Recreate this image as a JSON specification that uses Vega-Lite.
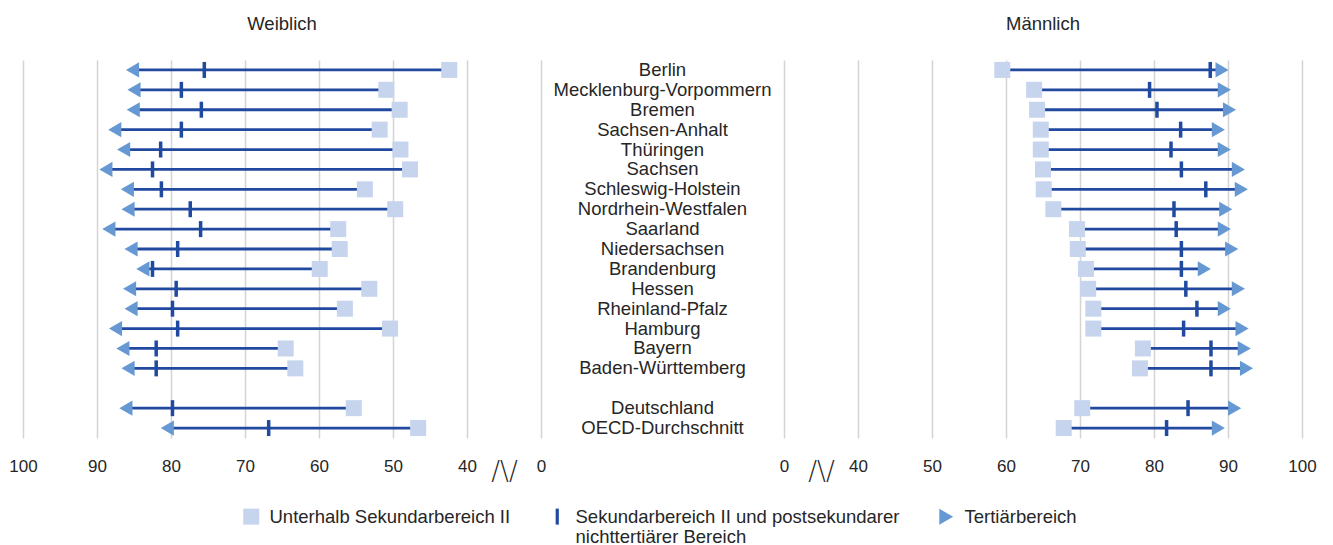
{
  "$schema": "https://vega.github.io/schema/vega-lite/v6.json",
  "padding": {"left": 8, "top": 14, "right": 20, "bottom": 0},
  "bounds": "flush",
  "spacing": 0,
  "config": {
    "view": {"stroke": null},
    "font": "Liberation Sans",
    "title": {"fontSize": 18.5, "fontWeight": "normal", "color": "#262626", "font": "Liberation Sans", "offset": 27}
  },
  "data": {"values": [
    {"l":"Berlin","g":"W","k":"U","v":42.4},{"l":"Berlin","g":"W","k":"S","v":75.5},{"l":"Berlin","g":"W","k":"T","v":85.2},
    {"l":"Mecklenburg-Vorpommern","g":"W","k":"U","v":50.9},{"l":"Mecklenburg-Vorpommern","g":"W","k":"S","v":78.6},{"l":"Mecklenburg-Vorpommern","g":"W","k":"T","v":85.0},
    {"l":"Bremen","g":"W","k":"U","v":49.1},{"l":"Bremen","g":"W","k":"S","v":75.9},{"l":"Bremen","g":"W","k":"T","v":85.1},
    {"l":"Sachsen-Anhalt","g":"W","k":"U","v":51.8},{"l":"Sachsen-Anhalt","g":"W","k":"S","v":78.6},{"l":"Sachsen-Anhalt","g":"W","k":"T","v":87.6},
    {"l":"Thüringen","g":"W","k":"U","v":49.0},{"l":"Thüringen","g":"W","k":"S","v":81.4},{"l":"Thüringen","g":"W","k":"T","v":86.4},
    {"l":"Sachsen","g":"W","k":"U","v":47.7},{"l":"Sachsen","g":"W","k":"S","v":82.5},{"l":"Sachsen","g":"W","k":"T","v":88.8},
    {"l":"Schleswig-Holstein","g":"W","k":"U","v":53.8},{"l":"Schleswig-Holstein","g":"W","k":"S","v":81.3},{"l":"Schleswig-Holstein","g":"W","k":"T","v":85.9},
    {"l":"Nordrhein-Westfalen","g":"W","k":"U","v":49.7},{"l":"Nordrhein-Westfalen","g":"W","k":"S","v":77.4},{"l":"Nordrhein-Westfalen","g":"W","k":"T","v":85.8},
    {"l":"Saarland","g":"W","k":"U","v":57.4},{"l":"Saarland","g":"W","k":"S","v":76.0},{"l":"Saarland","g":"W","k":"T","v":88.4},
    {"l":"Niedersachsen","g":"W","k":"U","v":57.2},{"l":"Niedersachsen","g":"W","k":"S","v":79.1},{"l":"Niedersachsen","g":"W","k":"T","v":85.4},
    {"l":"Brandenburg","g":"W","k":"U","v":59.9},{"l":"Brandenburg","g":"W","k":"S","v":82.5},{"l":"Brandenburg","g":"W","k":"T","v":83.8},
    {"l":"Hessen","g":"W","k":"U","v":53.2},{"l":"Hessen","g":"W","k":"S","v":79.3},{"l":"Hessen","g":"W","k":"T","v":85.6},
    {"l":"Rheinland-Pfalz","g":"W","k":"U","v":56.5},{"l":"Rheinland-Pfalz","g":"W","k":"S","v":79.8},{"l":"Rheinland-Pfalz","g":"W","k":"T","v":85.4},
    {"l":"Hamburg","g":"W","k":"U","v":50.4},{"l":"Hamburg","g":"W","k":"S","v":79.1},{"l":"Hamburg","g":"W","k":"T","v":87.5},
    {"l":"Bayern","g":"W","k":"U","v":64.5},{"l":"Bayern","g":"W","k":"S","v":82.0},{"l":"Bayern","g":"W","k":"T","v":86.5},
    {"l":"Baden-Württemberg","g":"W","k":"U","v":63.2},{"l":"Baden-Württemberg","g":"W","k":"S","v":82.0},{"l":"Baden-Württemberg","g":"W","k":"T","v":85.8},
    {"l":"Deutschland","g":"W","k":"U","v":55.3},{"l":"Deutschland","g":"W","k":"S","v":79.8},{"l":"Deutschland","g":"W","k":"T","v":86.1},
    {"l":"OECD-Durchschnitt","g":"W","k":"U","v":46.6},{"l":"OECD-Durchschnitt","g":"W","k":"S","v":66.8},{"l":"OECD-Durchschnitt","g":"W","k":"T","v":80.5},
    {"l":"Berlin","g":"M","k":"U","v":59.5},{"l":"Berlin","g":"M","k":"S","v":87.6},{"l":"Berlin","g":"M","k":"T","v":89.2},
    {"l":"Mecklenburg-Vorpommern","g":"M","k":"U","v":63.8},{"l":"Mecklenburg-Vorpommern","g":"M","k":"S","v":79.4},{"l":"Mecklenburg-Vorpommern","g":"M","k":"T","v":89.5},
    {"l":"Bremen","g":"M","k":"U","v":64.2},{"l":"Bremen","g":"M","k":"S","v":80.4},{"l":"Bremen","g":"M","k":"T","v":90.2},
    {"l":"Sachsen-Anhalt","g":"M","k":"U","v":64.7},{"l":"Sachsen-Anhalt","g":"M","k":"S","v":83.6},{"l":"Sachsen-Anhalt","g":"M","k":"T","v":88.7},
    {"l":"Thüringen","g":"M","k":"U","v":64.7},{"l":"Thüringen","g":"M","k":"S","v":82.3},{"l":"Thüringen","g":"M","k":"T","v":89.5},
    {"l":"Sachsen","g":"M","k":"U","v":65.0},{"l":"Sachsen","g":"M","k":"S","v":83.7},{"l":"Sachsen","g":"M","k":"T","v":91.4},
    {"l":"Schleswig-Holstein","g":"M","k":"U","v":65.1},{"l":"Schleswig-Holstein","g":"M","k":"S","v":87.0},{"l":"Schleswig-Holstein","g":"M","k":"T","v":91.8},
    {"l":"Nordrhein-Westfalen","g":"M","k":"U","v":66.4},{"l":"Nordrhein-Westfalen","g":"M","k":"S","v":82.7},{"l":"Nordrhein-Westfalen","g":"M","k":"T","v":89.7},
    {"l":"Saarland","g":"M","k":"U","v":69.6},{"l":"Saarland","g":"M","k":"S","v":83.0},{"l":"Saarland","g":"M","k":"T","v":89.5},
    {"l":"Niedersachsen","g":"M","k":"U","v":69.7},{"l":"Niedersachsen","g":"M","k":"S","v":83.7},{"l":"Niedersachsen","g":"M","k":"T","v":90.5},
    {"l":"Brandenburg","g":"M","k":"U","v":70.8},{"l":"Brandenburg","g":"M","k":"S","v":83.7},{"l":"Brandenburg","g":"M","k":"T","v":86.8},
    {"l":"Hessen","g":"M","k":"U","v":71.1},{"l":"Hessen","g":"M","k":"S","v":84.3},{"l":"Hessen","g":"M","k":"T","v":91.4},
    {"l":"Rheinland-Pfalz","g":"M","k":"U","v":71.8},{"l":"Rheinland-Pfalz","g":"M","k":"S","v":85.8},{"l":"Rheinland-Pfalz","g":"M","k":"T","v":89.5},
    {"l":"Hamburg","g":"M","k":"U","v":71.8},{"l":"Hamburg","g":"M","k":"S","v":84.0},{"l":"Hamburg","g":"M","k":"T","v":91.9},
    {"l":"Bayern","g":"M","k":"U","v":78.5},{"l":"Bayern","g":"M","k":"S","v":87.7},{"l":"Bayern","g":"M","k":"T","v":92.2},
    {"l":"Baden-Württemberg","g":"M","k":"U","v":78.1},{"l":"Baden-Württemberg","g":"M","k":"S","v":87.7},{"l":"Baden-Württemberg","g":"M","k":"T","v":92.5},
    {"l":"Deutschland","g":"M","k":"U","v":70.3},{"l":"Deutschland","g":"M","k":"S","v":84.6},{"l":"Deutschland","g":"M","k":"T","v":90.9},
    {"l":"OECD-Durchschnitt","g":"M","k":"U","v":67.8},{"l":"OECD-Durchschnitt","g":"M","k":"S","v":81.7},{"l":"OECD-Durchschnitt","g":"M","k":"T","v":88.7}
  ]},
  "hconcat": [
    {
      "title": {"text": "Weiblich"},
      "width": 518, "height": 378,
      "transform": [{"filter": "datum.g == 'W'"}],
      "encoding": {
        "y": {"field": "l", "type": "nominal", "axis": null,
          "scale": {"domain": ["Berlin","Mecklenburg-Vorpommern","Bremen","Sachsen-Anhalt","Thüringen","Sachsen","Schleswig-Holstein","Nordrhein-Westfalen","Saarland","Niedersachsen","Brandenburg","Hessen","Rheinland-Pfalz","Hamburg","Bayern","Baden-Württemberg"," ","Deutschland","OECD-Durchschnitt"], "paddingInner": 0, "paddingOuter": 0}}
      },
      "layer": [
        {
          "mark": {"type": "rule", "color": "#2249a0", "strokeWidth": 2.8},
          "encoding": {
            "x": {"aggregate": "min", "field": "v", "type": "quantitative",
              "scale": {"domain": [30, 100], "reverse": true, "nice": false, "zero": false},
              "axis": {"values": [100,90,80,70,60,50,40,35,30], "title": null,
                "labelExpr": "datum.value == 30 ? '0' : datum.value == 35 ? '/\\\\/' : datum.label",
                "grid": true, "gridColor": {"condition": {"test": "datum.value == 35", "value": "transparent"}, "value": "#d4d4d4"},
                "gridWidth": 1.5, "domain": false, "ticks": false, "labelFlush": false, "labelOverlap": false,
                "labelFontSize": {"condition": {"test": "datum.value == 35", "value": 26}, "value": 17},
                "labelFont": {"condition": {"test": "datum.value == 35", "value": "DejaVu Sans"}, "value": "Liberation Sans"},
                "labelFontWeight": {"condition": {"test": "datum.value == 35", "value": 200}, "value": "normal"},
                "labelPadding": 20, "labelColor": "#262626"}},
            "x2": {"aggregate": "max", "field": "v"}
          }
        },
        {
          "transform": [{"filter": "datum.k == 'U'"}],
          "mark": {"type": "point", "shape": "square", "filled": true, "size": 256, "opacity": 1},
          "encoding": {"x": {"field": "v", "type": "quantitative"},
            "color": {"field": "k", "type": "nominal", "scale": {"domain": ["U","S","T"], "range": ["#c6d4ee","#1f4aa0","#6699d3"]},
              "legend": {"orient": "none", "legendX": 219, "legendY": 447, "direction": "horizontal", "title": null,
                "labelFontSize": 18.5, "labelColor": "#262626", "labelFont": "Liberation Sans",
                "symbolSize": 256, "labelLimit": 600, "columnPadding": 37, "labelOffset": 9, "symbolOpacity": 1,
                "labelExpr": "datum.value == 'U' ? ['Unterhalb Sekundarbereich II', ''] : datum.value == 'S' ? ['Sekundarbereich II und postsekundarer', 'nichttertiärer Bereich'] : ['Tertiärbereich', '']"}}}
        },
        {
          "transform": [{"filter": "datum.k == 'S'"}],
          "mark": {"type": "tick", "thickness": 3.5, "size": 16, "opacity": 1},
          "encoding": {"x": {"field": "v", "type": "quantitative"},
            "color": {"field": "k", "type": "nominal"}}
        },
        {
          "transform": [{"filter": "datum.k == 'T'"}],
          "mark": {"type": "point", "shape": "triangle-left", "filled": true, "size": 230, "opacity": 1},
          "encoding": {"x": {"field": "v", "type": "quantitative"},
            "color": {"field": "k", "type": "nominal"}}
        }
      ]
    },
    {
      "width": 243, "height": 378,
      "transform": [{"filter": "datum.g == 'W' && datum.k == 'S'"}],
      "mark": {"type": "text", "fontSize": 18.5, "font": "Liberation Sans", "color": "#262626", "align": "center", "baseline": "middle"},
      "encoding": {
        "y": {"field": "l", "type": "nominal", "axis": null,
          "scale": {"domain": ["Berlin","Mecklenburg-Vorpommern","Bremen","Sachsen-Anhalt","Thüringen","Sachsen","Schleswig-Holstein","Nordrhein-Westfalen","Saarland","Niedersachsen","Brandenburg","Hessen","Rheinland-Pfalz","Hamburg","Bayern","Baden-Württemberg"," ","Deutschland","OECD-Durchschnitt"], "paddingInner": 0, "paddingOuter": 0}},
        "text": {"field": "l"}
      }
    },
    {
      "title": {"text": "Männlich"},
      "width": 518, "height": 378,
      "transform": [{"filter": "datum.g == 'M'"}],
      "encoding": {
        "y": {"field": "l", "type": "nominal", "axis": null,
          "scale": {"domain": ["Berlin","Mecklenburg-Vorpommern","Bremen","Sachsen-Anhalt","Thüringen","Sachsen","Schleswig-Holstein","Nordrhein-Westfalen","Saarland","Niedersachsen","Brandenburg","Hessen","Rheinland-Pfalz","Hamburg","Bayern","Baden-Württemberg"," ","Deutschland","OECD-Durchschnitt"], "paddingInner": 0, "paddingOuter": 0}}
      },
      "layer": [
        {
          "mark": {"type": "rule", "color": "#2249a0", "strokeWidth": 2.8},
          "encoding": {
            "x": {"aggregate": "min", "field": "v", "type": "quantitative",
              "scale": {"domain": [30, 100], "nice": false, "zero": false},
              "axis": {"values": [30,35,40,50,60,70,80,90,100], "title": null,
                "labelExpr": "datum.value == 30 ? '0' : datum.value == 35 ? '/\\\\/' : datum.label",
                "grid": true, "gridColor": {"condition": {"test": "datum.value == 35", "value": "transparent"}, "value": "#d4d4d4"},
                "gridWidth": 1.5, "domain": false, "ticks": false, "labelFlush": false, "labelOverlap": false,
                "labelFontSize": {"condition": {"test": "datum.value == 35", "value": 26}, "value": 17},
                "labelFont": {"condition": {"test": "datum.value == 35", "value": "DejaVu Sans"}, "value": "Liberation Sans"},
                "labelFontWeight": {"condition": {"test": "datum.value == 35", "value": 200}, "value": "normal"},
                "labelPadding": 20, "labelColor": "#262626"}},
            "x2": {"aggregate": "max", "field": "v"}
          }
        },
        {
          "transform": [{"filter": "datum.k == 'U'"}],
          "mark": {"type": "point", "filled": true, "size": 256, "opacity": 1},
          "encoding": {"x": {"field": "v", "type": "quantitative"},
            "color": {"field": "k", "type": "nominal"},
            "shape": {"field": "k", "type": "nominal", "scale": {"domain": ["U","S","T"], "range": ["square","M-0.2,-1H0.2V1H-0.2Z","triangle-right"]},
              "legend": {"orient": "none", "legendX": 219, "legendY": 447, "direction": "horizontal", "title": null,
                "labelFontSize": 18.5, "labelColor": "#262626", "labelFont": "Liberation Sans",
                "symbolSize": 256, "labelLimit": 600, "columnPadding": 37, "labelOffset": 9, "symbolOpacity": 1,
                "labelExpr": "datum.value == 'U' ? ['Unterhalb Sekundarbereich II', ''] : datum.value == 'S' ? ['Sekundarbereich II und postsekundarer', 'nichttertiärer Bereich'] : ['Tertiärbereich', '']"}}}
        },
        {
          "transform": [{"filter": "datum.k == 'S'"}],
          "mark": {"type": "tick", "thickness": 3.5, "size": 16, "opacity": 1},
          "encoding": {"x": {"field": "v", "type": "quantitative"},
            "color": {"field": "k", "type": "nominal"}}
        },
        {
          "transform": [{"filter": "datum.k == 'T'"}],
          "mark": {"type": "point", "filled": true, "size": 230, "opacity": 1},
          "encoding": {"x": {"field": "v", "type": "quantitative"},
            "color": {"field": "k", "type": "nominal"},
            "shape": {"field": "k", "type": "nominal"}}
        }
      ]
    }
  ]
}
